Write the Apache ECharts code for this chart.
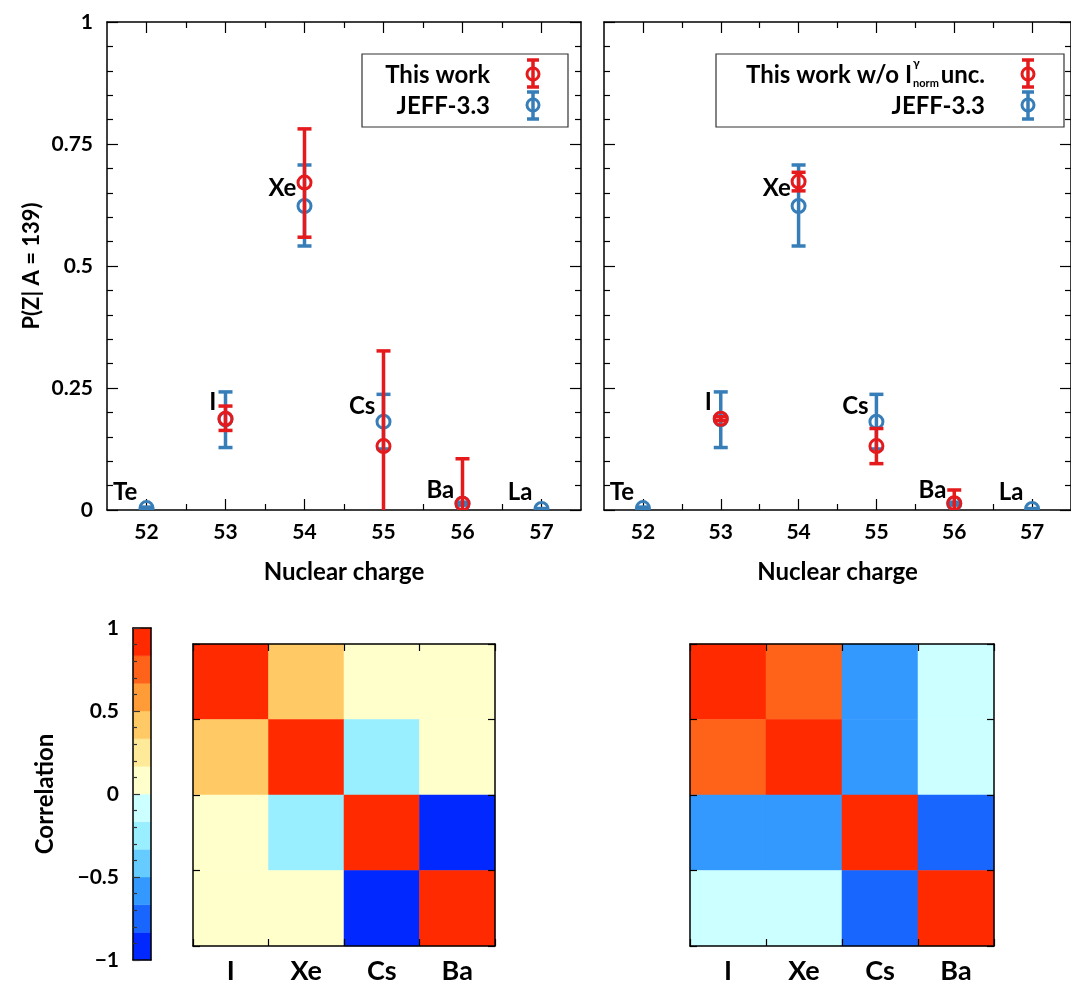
<!DOCTYPE html>
<html><head><meta charset="utf-8">
<script src="https://cdn.jsdelivr.net/npm/echarts@6/dist/echarts.min.js"></script>
<style>html,body{margin:0;padding:0;background:#fff}#c{width:1071px;height:988px}</style>
</head><body><div id="c"></div>
<script>
// ---------- data ----------
const charges = [52, 53, 54, 55, 56, 57];
const elements = ['Te', 'I', 'Xe', 'Cs', 'Ba', 'La'];
const labelX = [51.73, 52.84, 53.72, 54.73, 55.72, 56.73];
const labelY = [0.037, 0.221, 0.66, 0.213, 0.041, 0.037];

// JEFF-3.3 (same in both panels)
const jeffVal = [0.004, 0.186, 0.623, 0.181, 0.013, 0.002];
const jeffLo  = [0.002, 0.128, 0.541, 0.125, 0.010, 0.001];
const jeffHi  = [0.006, 0.242, 0.707, 0.237, 0.016, 0.003];

// This work (left panel)
const workVal = [null, 0.187, 0.671, 0.131, 0.013, null];
const workLo  = [null, 0.163, 0.559, -0.064, -0.079, null];
const workHi  = [null, 0.213, 0.781, 0.326, 0.105, null];

// This work w/o I_norm uncertainty (right panel)
const workNoNormVal = [null, 0.187, 0.673, 0.131, 0.014, null];
const workNoNormLo  = [null, 0.183, 0.654, 0.095, -0.013, null];
const workNoNormHi  = [null, 0.191, 0.692, 0.167, 0.041, null];

// correlation matrices
const corrNames = ['I', 'Xe', 'Cs', 'Ba'];
const corrLeft = [
  [1.00, 0.40, 0.05, 0.05],
  [0.40, 1.00, -0.25, 0.05],
  [0.05, -0.25, 1.00, -0.90],
  [0.05, 0.05, -0.90, 1.00]
];
const corrRight = [
  [1.00, 0.75, -0.60, -0.10],
  [0.75, 1.00, -0.60, -0.10],
  [-0.60, -0.60, 1.00, -0.75],
  [-0.10, -0.10, -0.75, 1.00]
];
const paletteColors = ['#0028ff','#1966ff','#3399ff','#66ccff','#99eeff','#ccffff',
                       '#ffffcc','#ffea99','#ffca66','#ff9c38','#ff6319','#ff2a00'];
const xTicks = [52, 53, 54, 55, 56, 57];
const xMinorTicks = [52.5, 53.5, 54.5, 55.5, 56.5];

// ---------- helpers ----------
const RED = '#e41a1c', BLUE = '#377eb8';
const FONT = 'Lato';
function pts(val, lo, hi) {
  const out = [];
  for (let i = 0; i < charges.length; i++) if (val[i] !== null) out.push([charges[i], val[i], lo[i], hi[i]]);
  return out;
}
function errRender(color) {
  return function (params, api) {
    const x = api.value(0), y = api.value(1), lo = api.value(2), hi = api.value(3);
    const c = api.coord([x, y]);
    const t = api.coord([x, hi]);
    const b = api.coord([x, lo]);
    const cs = params.coordSys;
    const bottomPix = cs.y + cs.height;
    let clipped = false;
    if (b[1] > bottomPix) { b[1] = bottomPix; clipped = true; }
    const hw = 7, lw = 3.5;
    const ch = [
      {type: 'line', shape: {x1: c[0], y1: t[1], x2: c[0], y2: b[1]}, style: {stroke: color, lineWidth: lw}},
      {type: 'line', shape: {x1: c[0] - hw, y1: t[1], x2: c[0] + hw, y2: t[1]}, style: {stroke: color, lineWidth: lw}}
    ];
    if (!clipped) ch.push({type: 'line', shape: {x1: c[0] - hw, y1: b[1], x2: c[0] + hw, y2: b[1]}, style: {stroke: color, lineWidth: lw}});
    ch.push({type: 'circle', shape: {cx: c[0], cy: c[1], r: 6.5}, style: {fill: 'rgba(0,0,0,0)', stroke: color, lineWidth: 3}});
    return {type: 'group', children: ch,
      clipPath: {type: 'rect', shape: {x: cs.x, y: cs.y - 2, width: cs.width, height: cs.height + 2}}};
  };
}
const lblStyle = {fontFamily: FONT, fontWeight: 'bold', color: '#000'};
function valueX(grid, pos, main, showLabel, name) {
  const ax = {
    type: 'value', gridIndex: grid, position: pos, min: 51.5, max: 57.5,
    axisLine: {show: main, onZero: false, lineStyle: {color: '#000', width: 1.5}},
    splitLine: {show: false},
    axisTick: {show: true, inside: true, length: main ? 11 : 6, customValues: main ? xTicks : xMinorTicks,
               lineStyle: {color: '#000', width: 1.2}},
    axisLabel: {show: showLabel, customValues: xTicks, fontSize: 21, margin: 12, ...lblStyle}
  };
  if (name) {
    ax.name = name; ax.nameLocation = 'middle'; ax.nameGap = 50;
    ax.nameTextStyle = {fontSize: 24, ...lblStyle};
  }
  return ax;
}
function valueY(grid, pos, showLabel, name) {
  const ax = {
    type: 'value', gridIndex: grid, position: pos, min: 0, max: 1, interval: 0.25,
    axisLine: {show: true, onZero: false, lineStyle: {color: '#000', width: 1.5}},
    splitLine: {show: false},
    axisTick: {show: true, inside: true, length: 11, lineStyle: {color: '#000', width: 1.2}},
    minorTick: {show: true, splitNumber: 5, length: 6, lineStyle: {color: '#000', width: 1.2}},
    axisLabel: {show: showLabel, fontSize: 21, margin: 14, ...lblStyle,
                formatter: v => String(v)}
  };
  if (name) {
    ax.name = name; ax.nameLocation = 'middle'; ax.nameGap = 64;
    ax.nameTextStyle = {fontSize: 22, ...lblStyle};
  }
  return ax;
}
function catX(grid, pos, showLabel) {
  return {
    type: 'category', gridIndex: grid, position: pos, data: corrNames, z: 5,
    axisLine: {show: true, lineStyle: {color: '#000', width: 1.5}},
    axisTick: {show: true, inside: true, length: 7, lineStyle: {color: '#000', width: 1.2}},
    axisLabel: {show: showLabel, fontSize: 27, margin: 12, ...lblStyle},
    splitLine: {show: false}
  };
}
function catY(grid, pos) {
  return {
    type: 'category', gridIndex: grid, position: pos, data: corrNames, inverse: true, z: 5,
    axisLine: {show: true, lineStyle: {color: '#000', width: 1.5}},
    axisTick: {show: true, inside: true, length: 7, lineStyle: {color: '#000', width: 1.2}},
    axisLabel: {show: false}, splitLine: {show: false}
  };
}
function heatData(m) {
  const out = [];
  for (let r = 0; r < m.length; r++) for (let c = 0; c < m[r].length; c++) out.push([c, r, m[r][c]]);
  return out;
}
const labelData = elements.map((e, i) => [labelX[i], labelY[i], e]);
function labelSeries(xi, yi) {
  return {
    type: 'scatter', xAxisIndex: xi, yAxisIndex: yi, data: labelData, symbolSize: 0,
    itemStyle: {color: '#000'}, z: 6, silent: true,
    label: {show: true, position: 'inside', formatter: p => p.data[2], fontSize: 24,
            fontFamily: FONT, fontWeight: 'bold', color: '#000', opacity: 1, textBorderWidth: 0}
  };
}
const levels = paletteColors.map((col, i) => [i, -1 + i / 6, -1 + (i + 1) / 6]);
const pieces = paletteColors.map((col, i) => {
  const p = {gte: -1 + i / 6, color: col};
  if (i < paletteColors.length - 1) p.lt = -1 + (i + 1) / 6; else p.lte = 1;
  return p;
});
function txt(x, y, s, align, size, vy) {
  return {type: 'text', x: x, y: y, z: 11,
          style: {text: s, textAlign: align, textVerticalAlign: vy || 'middle', font: 'bold ' + size + 'px Lato', fill: '#000'}};
}
function legendIcon(x, y0, y1, cy, color) {
  return [
    {type: 'line', z: 12, shape: {x1: x, y1: y0, x2: x, y2: y1}, style: {stroke: color, lineWidth: 3.5}},
    {type: 'line', z: 12, shape: {x1: x - 6, y1: y0, x2: x + 6, y2: y0}, style: {stroke: color, lineWidth: 3.5}},
    {type: 'line', z: 12, shape: {x1: x - 6, y1: y1, x2: x + 6, y2: y1}, style: {stroke: color, lineWidth: 3.5}},
    {type: 'circle', z: 12, shape: {cx: x, cy: cy, r: 6}, style: {fill: 'rgba(0,0,0,0)', stroke: color, lineWidth: 3}}
  ];
}

// ---------- chart ----------
const chart = echarts.init(document.getElementById('c'), null, {renderer: 'canvas'});
const option = {
  animation: false,
  backgroundColor: '#fff',
  grid: [
    {left: 107, top: 22, width: 474, height: 488},
    {left: 604, top: 22, width: 475, height: 488},
    {left: 133, top: 628, width: 18, height: 332},
    {left: 193, top: 644, width: 302, height: 302},
    {left: 690, top: 644, width: 304, height: 302}
  ],
  xAxis: [
    valueX(0, 'bottom', true, true, 'Nuclear charge'),
    valueX(0, 'bottom', false, false),
    valueX(0, 'top', true, false),
    valueX(0, 'top', false, false),
    valueX(1, 'bottom', true, true, 'Nuclear charge'),
    valueX(1, 'bottom', false, false),
    valueX(1, 'top', true, false),
    valueX(1, 'top', false, false),
    {type: 'value', gridIndex: 2, min: 0, max: 1, position: 'bottom', z: 5,
     axisLine: {show: true, onZero: false, lineStyle: {color: '#000', width: 1.5}},
     axisTick: {show: false}, axisLabel: {show: false}, splitLine: {show: false}},
    {type: 'value', gridIndex: 2, min: 0, max: 1, position: 'top', z: 5,
     axisLine: {show: true, onZero: false, lineStyle: {color: '#000', width: 1.5}},
     axisTick: {show: false}, axisLabel: {show: false}, splitLine: {show: false}},
    catX(3, 'bottom', true),
    catX(3, 'top', false),
    catX(4, 'bottom', true),
    catX(4, 'top', false)
  ],
  yAxis: [
    valueY(0, 'left', true, 'P(Z| A = 139)'),
    valueY(0, 'right', false),
    valueY(1, 'left', false),
    valueY(1, 'right', false),
    {type: 'value', gridIndex: 2, position: 'left', min: -1, max: 1, interval: 0.5, z: 5,
     name: 'Correlation', nameLocation: 'middle', nameGap: 76,
     nameTextStyle: {fontSize: 24, ...lblStyle},
     axisLine: {show: true, onZero: false, lineStyle: {color: '#000', width: 1.5}},
     axisTick: {show: true, inside: true, length: 7, lineStyle: {color: '#333', width: 1.2}},
     minorTick: {show: true, splitNumber: 5, length: 4, lineStyle: {color: '#333', width: 1.2}},
     splitLine: {show: false},
     axisLabel: {fontSize: 21, margin: 14, ...lblStyle, formatter: v => v < 0 ? '\u2212' + Math.abs(v) : String(v)}},
    {type: 'value', gridIndex: 2, position: 'right', min: -1, max: 1, z: 5,
     axisLine: {show: true, onZero: false, lineStyle: {color: '#000', width: 1.5}},
     axisTick: {show: false}, axisLabel: {show: false}, splitLine: {show: false}},
    catY(3, 'left'), catY(3, 'right'),
    catY(4, 'left'), catY(4, 'right')
  ],
  visualMap: {type: 'piecewise', show: false, seriesIndex: [7, 8], pieces: pieces},
  series: [
    {type: 'custom', xAxisIndex: 0, yAxisIndex: 0, renderItem: errRender(BLUE), data: pts(jeffVal, jeffLo, jeffHi), z: 3},
    {type: 'custom', xAxisIndex: 0, yAxisIndex: 0, renderItem: errRender(RED), data: pts(workVal, workLo, workHi), z: 4},
    labelSeries(0, 0),
    {type: 'custom', xAxisIndex: 4, yAxisIndex: 2, renderItem: errRender(BLUE), data: pts(jeffVal, jeffLo, jeffHi), z: 3},
    {type: 'custom', xAxisIndex: 4, yAxisIndex: 2, renderItem: errRender(RED), data: pts(workNoNormVal, workNoNormLo, workNoNormHi), z: 4},
    labelSeries(4, 2),
    {type: 'custom', xAxisIndex: 8, yAxisIndex: 4, data: levels, z: 2,
     renderItem: function (params, api) {
       const p1 = api.coord([0, api.value(2)]);
       const p2 = api.coord([1, api.value(1)]);
       return {type: 'rect', shape: {x: p1[0], y: p1[1], width: p2[0] - p1[0], height: p2[1] - p1[1]},
               style: {fill: paletteColors[api.value(0)], stroke: paletteColors[api.value(0)], lineWidth: 0.5}};
     }},
    {type: 'heatmap', xAxisIndex: 10, yAxisIndex: 6, data: heatData(corrLeft), z: 2},
    {type: 'heatmap', xAxisIndex: 12, yAxisIndex: 8, data: heatData(corrRight), z: 2}
  ],
  graphic: [
    {type: 'rect', shape: {x: 362, y: 54, width: 206, height: 73}, style: {fill: '#fff', stroke: '#333', lineWidth: 1.2}, z: 10},
    txt(490, 75, 'This work', 'right', 24),
    txt(490, 106, 'JEFF-3.3', 'right', 24),
    ...legendIcon(533, 60, 87, 74, RED),
    ...legendIcon(533, 92, 119, 105, BLUE),
    {type: 'rect', shape: {x: 716, y: 54, width: 348, height: 73}, style: {fill: '#fff', stroke: '#333', lineWidth: 1.2}, z: 10},
    txt(912, 75, 'This work w/o I', 'right', 24),
    txt(913, 63, '\u03b3', 'left', 12),
    txt(913, 83, 'norm', 'left', 11),
    txt(985, 75, 'unc.', 'right', 24),
    txt(985, 106, 'JEFF-3.3', 'right', 24),
    ...legendIcon(1028, 60, 87, 74, RED),
    ...legendIcon(1028, 92, 119, 105, BLUE)
  ]
};
chart.setOption(option);
</script>
</body></html>
